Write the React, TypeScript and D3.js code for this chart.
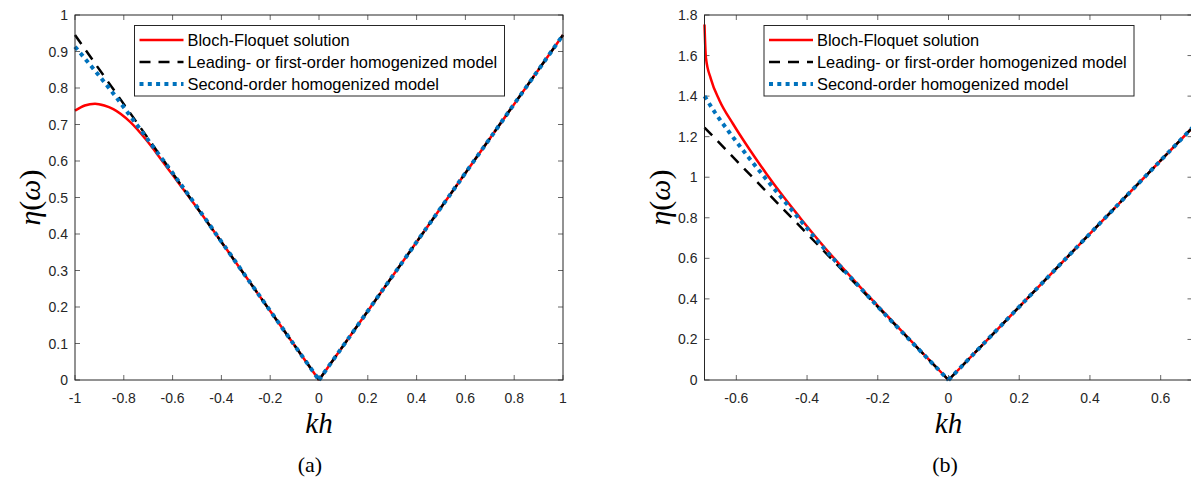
import React from "react";
import * as d3 from "d3";

// ---- data ----
// panel (a)
const aBlochKh = [-1, -0.96, -0.918, -0.88, -0.843, -0.774, -0.706, -0.65, -0.6, -0.55, -0.5, -0.3, -0.15, 0, 1];
const aBlochEta = [0.738, 0.752, 0.757, 0.752, 0.742, 0.707, 0.656, 0.607, 0.562, 0.517, 0.472, 0.2835, 0.142, 0, 0.945];
const aFirstKh = [-1, 0, 1];
const aFirstEta = [0.945, 0, 0.945];
const aSecondKh = [-1, -0.925, -0.843, -0.761, -0.692, -0.6, -0.3, 0, 1];
const aSecondEta = [0.913, 0.853, 0.785, 0.712, 0.65, 0.567, 0.284, 0, 0.945];

// panel (b)
const bBlochKh = [-0.69, -0.686, -0.672, -0.648, -0.61, -0.563, -0.516, -0.473, -0.421, -0.346, -0.26, -0.2, -0.1, 0, 0.69];
const bBlochEta = [1.753, 1.59, 1.485, 1.38, 1.265, 1.138, 1.02, 0.918, 0.803, 0.645, 0.478, 0.366, 0.182, 0, 1.245];
const bFirstKh = [-0.69, 0, 0.69];
const bFirstEta = [1.245, 0, 1.245];
const bSecondKh = [-0.69, -0.66, -0.62, -0.57, -0.52, -0.47, -0.42, -0.35, -0.26, -0.2, -0.1, 0, 0.69];
const bSecondEta = [1.4, 1.318, 1.222, 1.108, 1.0, 0.895, 0.79, 0.645, 0.475, 0.362, 0.18, 0, 1.245];

// ticks
const aXTicks = [-1, -0.8, -0.6, -0.4, -0.2, 0, 0.2, 0.4, 0.6, 0.8, 1];
const aYTicks = [0, 0.1, 0.2, 0.3, 0.4, 0.5, 0.6, 0.7, 0.8, 0.9, 1];
const bXTicks = [-0.6, -0.4, -0.2, 0, 0.2, 0.4, 0.6];
const bYTicks = [0, 0.2, 0.4, 0.6, 0.8, 1, 1.2, 1.4, 1.6, 1.8];

const legendLabels = [
  "Bloch-Floquet solution",
  "Leading- or first-order homogenized model",
  "Second-order homogenized model",
];

// style
const AXIS = "#262626";
const RED = "#FF0000";
const BLUE = "#0072BD";
const SANS = "'Liberation Sans', Arial, Helvetica, sans-serif";
const SERIF = "'Liberation Serif', 'Times New Roman', serif";

const fmt = (d: number) => String(Math.round(d * 10) / 10);

const zip = (xs: number[], ys: number[]) => xs.map((x, i) => [x, ys[i]] as [number, number]);

// line styles for the 3 series (in plot order)
const series = [
  { stroke: RED, width: 2.5, dash: undefined as string | undefined },
  { stroke: "#000000", width: 2.5, dash: "11 8" },
  { stroke: BLUE, width: 4, dash: "4 4.3" },
];

function Panel(props: {
  left: number;
  right: number;
  top: number;
  bottom: number;
  xDomain: [number, number];
  yDomain: [number, number];
  xTicks: number[];
  yTicks: number[];
  data: [number, number][][];
  legendX: number;
  legendW: number;
  yLabelX: number;
  captionX: number;
  caption: string;
}) {
  const x = d3.scaleLinear().domain(props.xDomain).range([props.left, props.right]);
  const y = d3.scaleLinear().domain(props.yDomain).range([props.bottom, props.top]);
  const tick = 5;

  // each curve is drawn as negative and positive branches so the V corner stays sharp
  const line = d3
    .line<[number, number]>()
    .x((d) => x(d[0]))
    .y((d) => y(d[1]))
    .curve(d3.curveMonotoneX);

  const paths = props.data.map((pts) => {
    const neg = pts.filter((p) => p[0] <= 0);
    const pos = pts.filter((p) => p[0] >= 0);
    return (line(neg) || "") + (line(pos) || "");
  });

  const legTop = 25.5;
  const rowY = [40, 62, 84];
  const sampleX0 = props.legendX + 5;
  const sampleX1 = props.legendX + 49;

  return (
    <g>
      <defs>
        <clipPath id={"clip" + props.caption}>
          <rect x={props.left} y={props.top} width={props.right - props.left} height={props.bottom - props.top} />
        </clipPath>
      </defs>

      {/* ticks */}
      {props.xTicks.map((t) => (
        <g key={"xt" + t}>
          <line x1={x(t)} x2={x(t)} y1={props.bottom} y2={props.bottom - tick} stroke={AXIS} strokeWidth={0.7} />
          <line x1={x(t)} x2={x(t)} y1={props.top} y2={props.top + tick} stroke={AXIS} strokeWidth={0.7} />
          <text x={x(t)} y={402.5} textAnchor="middle" fontFamily={SANS} fontSize={14} fill={AXIS}>
            {fmt(t)}
          </text>
        </g>
      ))}
      {props.yTicks.map((t) => (
        <g key={"yt" + t}>
          <line x1={props.left} x2={props.left + tick} y1={y(t)} y2={y(t)} stroke={AXIS} strokeWidth={0.7} />
          <line x1={props.right} x2={props.right - tick} y1={y(t)} y2={y(t)} stroke={AXIS} strokeWidth={0.7} />
          <text x={props.left - 7} y={y(t) + 5} textAnchor="end" fontFamily={SANS} fontSize={14} fill={AXIS}>
            {fmt(t)}
          </text>
        </g>
      ))}

      {/* curves */}
      <g clipPath={`url(#clip${props.caption})`}>
        {paths.map((p, i) => (
          <path
            key={"s" + i}
            d={p}
            fill="none"
            stroke={series[i].stroke}
            strokeWidth={series[i].width}
            strokeDasharray={series[i].dash}
          />
        ))}
      </g>

      {/* box */}
      <rect
        x={props.left}
        y={props.top}
        width={props.right - props.left}
        height={props.bottom - props.top}
        fill="none"
        stroke={AXIS}
        strokeWidth={1}
      />

      {/* legend */}
      <rect x={props.legendX} y={legTop} width={props.legendW} height={70.5} fill="#fff" stroke={AXIS} strokeWidth={1} />
      {legendLabels.map((lab, i) => (
        <g key={"lg" + i}>
          <line
            x1={sampleX0}
            x2={sampleX1}
            y1={rowY[i]}
            y2={rowY[i]}
            stroke={series[i].stroke}
            strokeWidth={series[i].width}
            strokeDasharray={series[i].dash}
          />
          <text x={sampleX1 + 4} y={rowY[i] + 5.5} fontFamily={SANS} fontSize={16.4} fill="#000">
            {lab}
          </text>
        </g>
      ))}

      {/* axis labels */}
      <text
        x={(props.left + props.right) / 2}
        y={433}
        textAnchor="middle"
        fontFamily={SERIF}
        fontStyle="italic"
        fontSize={29}
        fill="#000"
      >
        kh
      </text>
      <text
        transform={`translate(${props.yLabelX},${(props.top + props.bottom) / 2}) rotate(-90)`}
        textAnchor="middle"
        fontFamily={SERIF}
        fontSize={30}
        fill="#000"
      >
        <tspan fontStyle="italic">η</tspan>(<tspan fontStyle="italic">ω</tspan>)
      </text>
      <text x={props.captionX} y={472} textAnchor="middle" fontFamily={SERIF} fontSize={22} fill="#000">
        {props.caption}
      </text>
    </g>
  );
}

export default function App() {
  return (
    <svg
      width={1191}
      height={481}
      style={{ position: "absolute", left: 0, top: 0, background: "#fff" }}
    >
      <rect width={1191} height={481} fill="#fff" />
      <Panel
        left={75}
        right={563}
        top={15}
        bottom={380}
        xDomain={[-1, 1]}
        yDomain={[0, 1]}
        xTicks={aXTicks}
        yTicks={aYTicks}
        data={[zip(aBlochKh, aBlochEta), zip(aFirstKh, aFirstEta), zip(aSecondKh, aSecondEta)]}
        legendX={134.5}
        legendW={370}
        yLabelX={40}
        captionX={310}
        caption="(a)"
      />
      <Panel
        left={704.5}
        right={1192.5}
        top={15}
        bottom={380}
        xDomain={[-0.69, 0.69]}
        yDomain={[0, 1.8]}
        xTicks={bXTicks}
        yTicks={bYTicks}
        data={[zip(bBlochKh, bBlochEta), zip(bFirstKh, bFirstEta), zip(bSecondKh, bSecondEta)]}
        legendX={764}
        legendW={370}
        yLabelX={670}
        captionX={945}
        caption="(b)"
      />
    </svg>
  );
}
